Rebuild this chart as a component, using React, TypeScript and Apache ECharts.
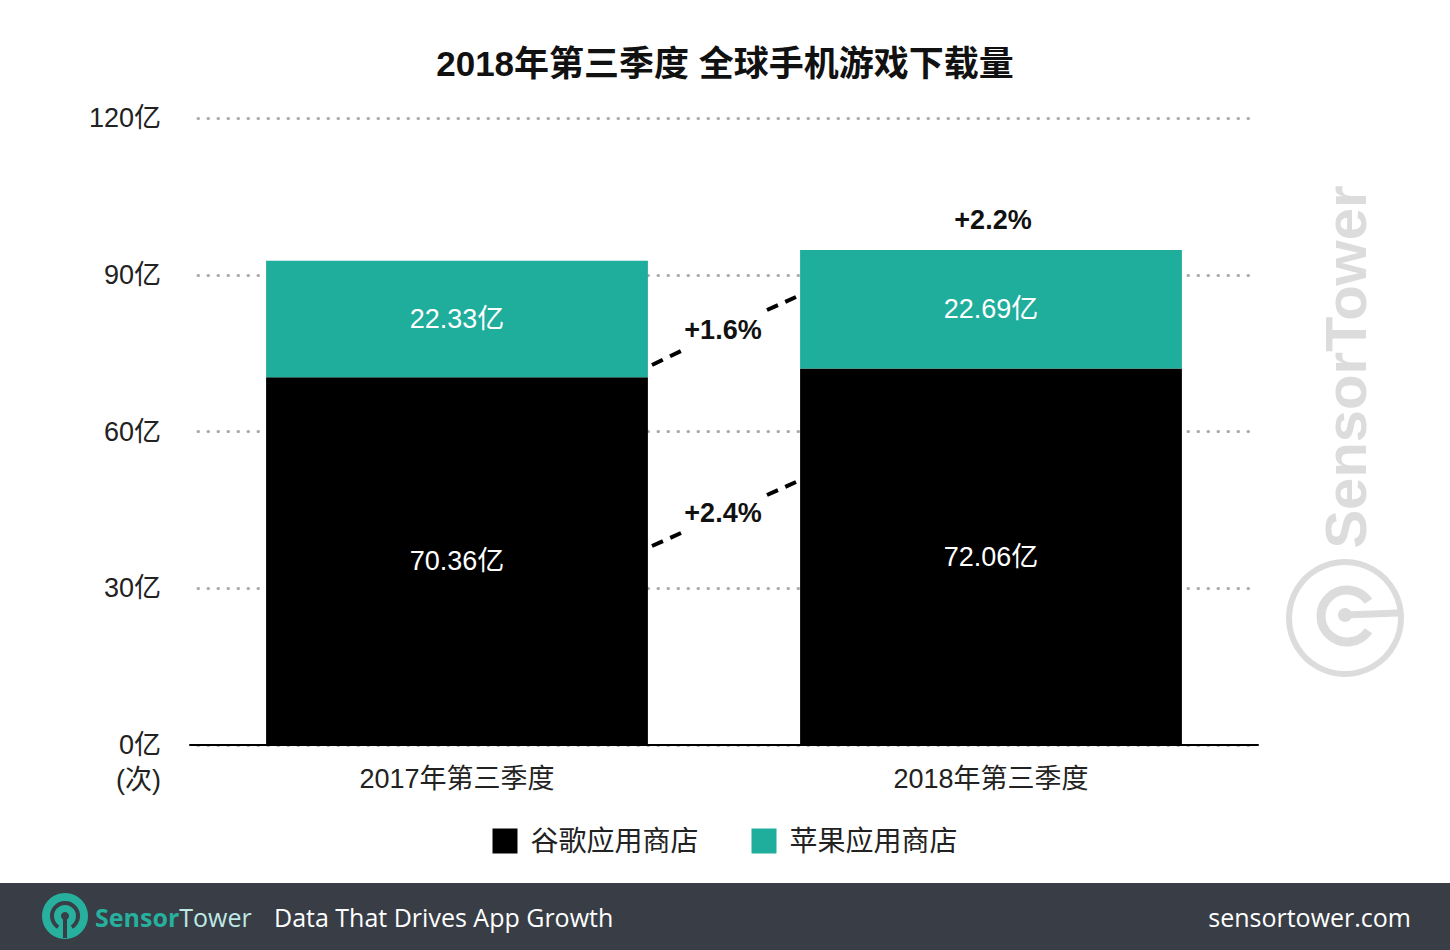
import React, { useEffect, useRef } from "react";
import * as echarts from "echarts";

const categories = ["2017年第三季度", "2018年第三季度"];
const googlePlay = [70.36, 72.06];
const appStore = [22.33, 22.69];
const seriesNames = ["谷歌应用商店", "苹果应用商店"];
const yMin = 0;
const yMax = 120;
const yInterval = 30;
const growthGoogle = "+2.4%";
const growthApple = "+1.6%";
const growthTotal = "+2.2%";
const title = "2018年第三季度 全球手机游戏下载量";
const unitLabel = "(次)";

const FONT = '"Liberation Sans", "Noto Sans CJK SC", sans-serif';
const FOOT_FONT = '"Open Sans", "Noto Sans", sans-serif';
const TEAL = "#1fad9c";
const WM = "#dcdcdc";
const FOOTER_BG = "#383d46";

export default function App() {
  const ref = useRef<HTMLDivElement>(null);
  useEffect(() => {
    if (!ref.current) return;
    const chart = echarts.init(ref.current, undefined, { renderer: "svg" });
    const labelStyle = {
      show: true,
      position: "inside",
      color: "#fff",
      fontSize: 27,
      fontFamily: FONT,
      formatter: (p: any) => `${p.value}亿`,
    };
    const annText = (text: string, x: number, y: number) => ({
      type: "text",
      x,
      y,
      z: 20,
      style: {
        text,
        fill: "#111",
        font: `bold 27px ${FONT}`,
        align: "center",
        verticalAlign: "middle",
      },
    });
    const dashLine = (x1: number, y1: number, x2: number, y2: number) => ({
      type: "line",
      z: 15,
      shape: { x1, y1, x2, y2 },
      style: { stroke: "#000", lineWidth: 4, lineDash: [12, 8] },
    });
    chart.setOption({
      animation: false,
      backgroundColor: "#fff",
      title: {
        text: title,
        left: "center",
        top: 41,
        textStyle: { fontSize: 35, fontWeight: "bold", color: "#111", fontFamily: FONT },
      },
      legend: {
        data: seriesNames,
        top: 822,
        left: "center",
        icon: "rect",
        itemWidth: 25,
        itemHeight: 25,
        itemGap: 53,
        textStyle: { fontSize: 28, color: "#222", fontFamily: FONT, padding: [0, 0, 0, 8] },
      },
      grid: { left: 190, right: 192, top: 118, bottom: 205 },
      xAxis: {
        type: "category",
        data: categories,
        axisLine: { lineStyle: { color: "#000", width: 2 } },
        axisTick: { show: false },
        axisLabel: { fontSize: 27, color: "#222", margin: 20, fontFamily: FONT },
        z: 10,
      },
      yAxis: {
        type: "value",
        min: yMin,
        max: yMax,
        interval: yInterval,
        axisLine: { show: false },
        axisTick: { show: false },
        axisLabel: {
          fontSize: 27,
          color: "#222",
          margin: 29,
          fontFamily: FONT,
          formatter: (v: number) => `${v}亿`,
        },
        splitLine: {
          lineStyle: { color: "#aaa", width: 3, type: [0.5, 9.5], cap: "round", dashOffset: -8 },
        },
      },
      series: [
        {
          name: seriesNames[0],
          type: "bar",
          stack: "total",
          data: googlePlay,
          barWidth: "71.5%",
          itemStyle: { color: "#000" },
          label: labelStyle,
        },
        {
          name: seriesNames[1],
          type: "bar",
          stack: "total",
          data: appStore,
          barWidth: "71.5%",
          itemStyle: { color: TEAL },
          label: labelStyle,
        },
      ],
      graphic: [
        {
          type: "text",
          right: 1450 - 161,
          top: 766,
          style: { text: unitLabel, font: `27px ${FONT}`, fill: "#222" },
        },
        dashLine(652, 365, 681, 351),
        dashLine(767, 310, 796, 297),
        dashLine(652, 546, 681, 533),
        dashLine(767, 495, 796, 482),
        annText(growthApple, 723, 330),
        annText(growthGoogle, 723, 513),
        annText(growthTotal, 993, 220),
        // watermark
        {
          type: "text",
          x: 1345,
          y: 367,
          rotation: Math.PI / 2,
          style: {
            text: "SensorTower",
            font: `bold 58px "Liberation Sans", sans-serif`,
            fill: WM,
            align: "center",
            verticalAlign: "middle",
          },
        },
        {
          type: "circle",
          shape: { cx: 1345, cy: 618, r: 56 },
          style: { fill: "none", stroke: WM, lineWidth: 6 },
        },
        {
          type: "arc",
          shape: { cx: 1347, cy: 616, r: 26, startAngle: 0.6, endAngle: Math.PI * 2 - 0.6, clockwise: true },
          style: { fill: "none", stroke: WM, lineWidth: 9 },
        },
        {
          type: "line",
          shape: { x1: 1345, y1: 615, x2: 1398, y2: 613 },
          style: { stroke: WM, lineWidth: 7 },
        },
        {
          type: "circle",
          shape: { cx: 1345, cy: 615, r: 7 },
          style: { fill: WM },
        },
        // footer
        {
          type: "rect",
          shape: { x: 0, y: 883, width: 1450, height: 67 },
          style: { fill: FOOTER_BG },
        },
        {
          type: "circle",
          shape: { cx: 65, cy: 916, r: 23 },
          style: { fill: "#26b09d" },
        },
        {
          type: "arc",
          shape: { cx: 65, cy: 916, r: 13, startAngle: Math.PI / 2 + 0.55, endAngle: Math.PI / 2 - 0.55 + Math.PI * 2, clockwise: true },
          style: { fill: "none", stroke: FOOTER_BG, lineWidth: 4 },
        },
        {
          type: "line",
          shape: { x1: 65, y1: 916, x2: 65, y2: 938 },
          style: { stroke: FOOTER_BG, lineWidth: 4 },
        },
        {
          type: "circle",
          shape: { cx: 65, cy: 916, r: 4 },
          style: { fill: FOOTER_BG },
        },
        {
          type: "text",
          x: 95,
          y: 917,
          style: {
            text: "{a|Sensor}{b|Tower}",
            verticalAlign: "middle",
            rich: {
              a: { fontSize: 25, fontWeight: "bold", fill: "#26b09d", color: "#26b09d", fontFamily: FOOT_FONT },
              b: { fontSize: 25, fill: "#bfe9e5", color: "#bfe9e5", fontFamily: FOOT_FONT },
            },
          },
        },
        {
          type: "text",
          x: 274,
          y: 917,
          style: {
            text: "Data That Drives App Growth",
            font: `25px ${FOOT_FONT}`,
            fill: "#fff",
            verticalAlign: "middle",
          },
        },
        {
          type: "text",
          x: 1411,
          y: 917,
          style: {
            text: "sensortower.com",
            font: `25px ${FOOT_FONT}`,
            fill: "#fff",
            align: "right",
            verticalAlign: "middle",
          },
        },
      ],
    });
    return () => chart.dispose();
  }, []);
  return (
    <div
      ref={ref}
      style={{ position: "fixed", left: 0, top: 0, width: 1450, height: 950 }}
    />
  );
}
